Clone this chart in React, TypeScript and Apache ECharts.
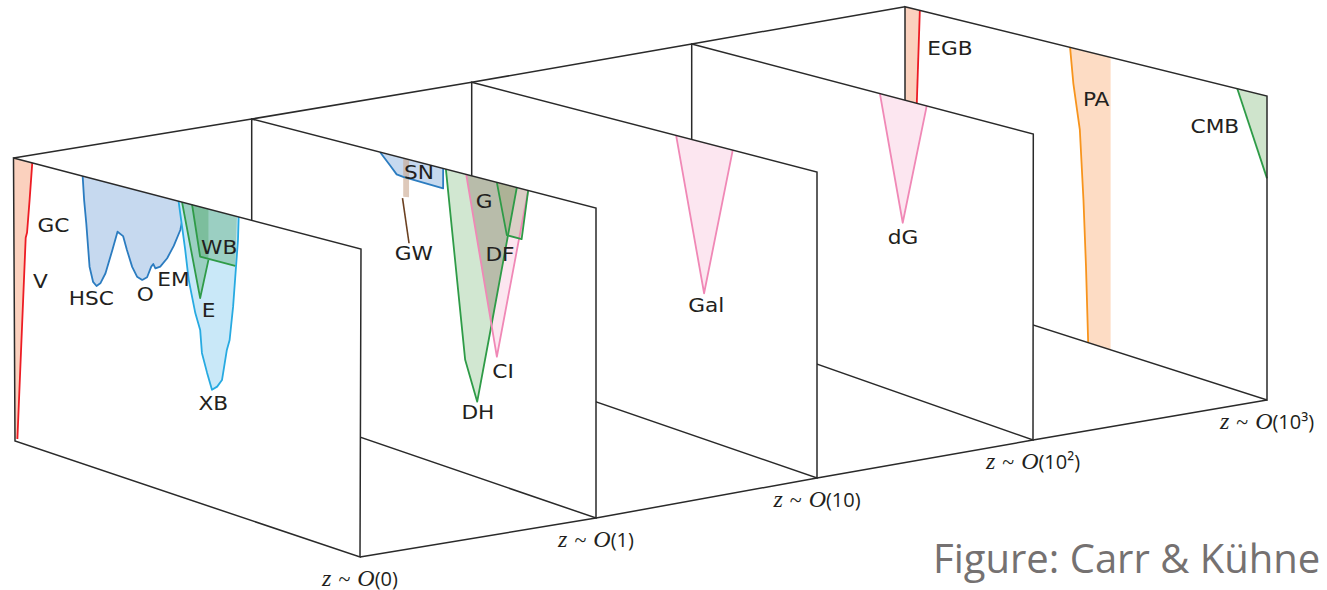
import { useEffect, useRef } from "react";
import * as echarts from "echarts";

type Pt = [number, number];

const SCENE_W = 1327;
const SCENE_H = 590;

// Corners of the five redshift panels in scene pixels (front panel first).
const PANEL_FRAMES: { tl: Pt; tr: Pt; bl: Pt; br: Pt }[] = [
  { tl: [13.5, 158], tr: [361, 249], bl: [15, 441], br: [360, 557] },
  { tl: [251.7, 119], tr: [596, 208], bl: [251.7, 400], br: [596, 518] },
  { tl: [471.7, 82.3], tr: [817, 172], bl: [471.7, 359], br: [817, 478] },
  { tl: [691.7, 44], tr: [1033.3, 134], bl: [691.7, 320], br: [1033, 440] },
  { tl: [905, 6.7], tr: [1267, 96], bl: [905, 284], br: [1267, 400] },
];

const REDSHIFTS = ["0", "1", "10", "10²", "10³"];

// Profiles drawn on each panel as [across, depth] fractions of the panel face.
// z ~ O(0)
const GC_V_EDGE: Pt[] = [[0.054, 0], [0.046, 0.13], [0.038, 0.25], [0.034, 0.27], [0.007, 0.99]];
const HSC_O_EM: Pt[] = [
  [0.199, 0], [0.203, 0.082], [0.209, 0.161], [0.218, 0.308], [0.228, 0.357], [0.238, 0.368],
  [0.249, 0.355], [0.264, 0.315], [0.284, 0.228], [0.299, 0.16], [0.315, 0.17], [0.326, 0.214],
  [0.341, 0.267], [0.355, 0.296], [0.37, 0.302], [0.384, 0.288], [0.396, 0.248], [0.402, 0.237],
  [0.408, 0.25], [0.422, 0.239], [0.442, 0.204], [0.461, 0.156], [0.48, 0.096], [0.492, 0.024],
  [0.498, 0],
];
const XB: Pt[] = [
  [0.475, 0], [0.485, 0.083], [0.494, 0.159], [0.504, 0.257], [0.523, 0.363], [0.537, 0.415],
  [0.542, 0.491], [0.557, 0.553], [0.571, 0.605], [0.586, 0.589], [0.6, 0.562], [0.614, 0.456],
  [0.622, 0.42], [0.632, 0.305], [0.639, 0.191], [0.646, 0.078], [0.648, 0],
];
const E: Pt[] = [[0.485, 0], [0.537, 0.308], [0.561, 0.171], [0.561, 0]];
const WB: Pt[] = [[0.514, 0], [0.537, 0.168], [0.638, 0.167], [0.643, 0]];

// z ~ O(1)
const SN: Pt[] = [[0.373, 0], [0.401, 0.035], [0.421, 0.061], [0.44, 0.064], [0.556, 0.067], [0.556, 0]];
const GW_BAND: Pt[] = [[0.44, 0], [0.457, 0], [0.457, 0.128], [0.44, 0.131]];
const GW_TAIL: Pt[] = [[0.438, 0.137], [0.457, 0.284]];
const DH: Pt[] = [[0.564, 0], [0.62, 0.621], [0.655, 0.748], [0.692, 0.507], [0.77, 0]];
const CI: Pt[] = [[0.623, 0], [0.712, 0.578], [0.803, 0]];
const DF: Pt[] = [[0.623, 0], [0.696, 0.477], [0.77, 0]];
const G: Pt[] = [[0.712, 0], [0.741, 0.166], [0.784, 0.166], [0.803, 0]];

// z ~ O(10)
const GAL: Pt[] = [[0.592, 0], [0.673, 0.508], [0.756, 0]];

// z ~ O(10²)
const DG: Pt[] = [[0.551, 0], [0.618, 0.418], [0.688, 0]];

// z ~ O(10³)
const EGB_EDGE: Pt[] = [[0.041, 0], [0.032, 0.36]];
const PA_EDGE: Pt[] = [[0.456, 0], [0.465, 0.121], [0.483, 0.276], [0.493, 0.514], [0.5, 0.741], [0.506, 1]];
const PA_FAR = 0.568;
const CMB: Pt[] = [[0.918, 0], [1, 0.271], [1, 0]];

// Population names and where they sit on their panel.
const LABELS: { panel: number; text: string; at: Pt }[] = [
  { panel: 0, text: "GC", at: [0.114, 0.198] },
  { panel: 0, text: "V", at: [0.076, 0.41] },
  { panel: 0, text: "HSC", at: [0.223, 0.418] },
  { panel: 0, text: "O", at: [0.379, 0.347] },
  { panel: 0, text: "EM", at: [0.46, 0.269] },
  { panel: 0, text: "E", at: [0.561, 0.34] },
  { panel: 0, text: "WB", at: [0.592, 0.121] },
  { panel: 0, text: "XB", at: [0.575, 0.648] },
  { panel: 1, text: "SN", at: [0.486, 0.036] },
  { panel: 1, text: "GW", at: [0.471, 0.313] },
  { panel: 1, text: "G", at: [0.675, 0.076] },
  { panel: 1, text: "DF", at: [0.721, 0.235] },
  { panel: 1, text: "CI", at: [0.73, 0.619] },
  { panel: 1, text: "DH", at: [0.657, 0.782] },
  { panel: 2, text: "Gal", at: [0.679, 0.546] },
  { panel: 3, text: "dG", at: [0.619, 0.466] },
  { panel: 4, text: "EGB", at: [0.124, 0.108] },
  { panel: 4, text: "PA", at: [0.528, 0.155] },
  { panel: 4, text: "CMB", at: [0.856, 0.143] },
];

const INK = "#231f20";
const EDGE = "#2a2a2a";
const RED = "#ed1c24";
const SALMON = "#fbd1be";
const BLUE = "#2b7cc0";
const BLUE_FILL = "#c6d9ef";
const CYAN = "#27aae1";
const CYAN_FILL = "#c9e8f8";
const GREEN = "#2e9b47";
const GREEN_FILL = "rgba(60,155,80,0.32)";
const DH_FILL = "rgba(90,170,90,0.28)";
const PINK = "#f088b6";
const PINK_FILL = "rgba(240,130,180,0.2)";
const DF_FILL = "rgba(100,130,80,0.27)";
const G_FILL = "rgba(150,160,110,0.32)";
const TAN_FILL = "rgba(200,165,140,0.6)";
const BROWN = "#6b4020";
const ORANGE = "#f7941d";
const PEACH = "#fddcc4";
const CMB_FILL = "#cfe4cc";

type Item =
  | { kind: "face" | "frame" | "redshift"; panel: number }
  | { kind: "area"; panel: number; pts: Pt[]; fill: string }
  | { kind: "line"; panel: number; pts: Pt[]; stroke: string; width: number }
  | { kind: "label"; panel: number; text: string; at: Pt }
  | { kind: "rail"; corner: "tl" | "br" };

const ITEMS: Item[] = [];
const area = (panel: number, pts: Pt[], fill: string) => ITEMS.push({ kind: "area", panel, pts, fill });
const line = (panel: number, pts: Pt[], stroke: string, width = 1.8) =>
  ITEMS.push({ kind: "line", panel, pts, stroke, width });

const SHAPES: Record<number, () => void> = {
  0: () => {
    area(0, [[0, 0], ...GC_V_EDGE, [0, 0.99]], SALMON);
    line(0, GC_V_EDGE, RED);
    area(0, HSC_O_EM, BLUE_FILL);
    line(0, HSC_O_EM, BLUE);
    area(0, XB, CYAN_FILL);
    line(0, XB, CYAN);
    area(0, E, GREEN_FILL);
    area(0, WB, GREEN_FILL);
    line(0, E.slice(0, 3), GREEN);
    line(0, WB.slice(0, 3), GREEN);
  },
  1: () => {
    area(1, SN, BLUE_FILL);
    area(1, GW_BAND, TAN_FILL);
    line(1, SN, BLUE);
    line(1, GW_TAIL, BROWN, 1.6);
    area(1, DH, DH_FILL);
    area(1, CI, PINK_FILL);
    area(1, DF, DF_FILL);
    area(1, G, G_FILL);
    line(1, DH, GREEN);
    line(1, CI, PINK);
    line(1, G, GREEN);
  },
  2: () => {
    area(2, GAL, PINK_FILL);
    line(2, GAL, PINK);
  },
  3: () => {
    area(3, DG, PINK_FILL);
    line(3, DG, PINK);
  },
  4: () => {
    area(4, [[0, 0], ...EGB_EDGE, [0, EGB_EDGE[1][1]]], SALMON);
    line(4, EGB_EDGE, RED);
    area(4, [...PA_EDGE, [PA_FAR, 1], [PA_FAR, 0]], PEACH);
    line(4, PA_EDGE, ORANGE);
    area(4, CMB, CMB_FILL);
    line(4, CMB.slice(0, 2), GREEN);
  },
};

ITEMS.push({ kind: "rail", corner: "tl" });
for (let k = PANEL_FRAMES.length - 1; k >= 0; k--) {
  ITEMS.push({ kind: "face", panel: k });
  SHAPES[k]();
  ITEMS.push({ kind: "frame", panel: k });
  LABELS.filter((l) => l.panel === k).forEach((l) => ITEMS.push({ kind: "label", ...l }));
  ITEMS.push({ kind: "redshift", panel: k });
}
ITEMS.push({ kind: "rail", corner: "br" });

const lerp = (a: Pt, b: Pt, t: number): Pt => [a[0] + (b[0] - a[0]) * t, a[1] + (b[1] - a[1]) * t];

// Bilinear placement of a [across, depth] point on a panel face.
function project(panel: number, [u, v]: Pt): Pt {
  const f = PANEL_FRAMES[panel];
  return lerp(lerp(f.tl, f.tr, u), lerp(f.bl, f.br, u), v);
}

export default function App() {
  const ref = useRef<HTMLDivElement>(null);

  useEffect(() => {
    if (!ref.current) return;
    const chart = echarts.init(ref.current, undefined, { renderer: "svg" });

    const renderItem = (params: any, api: any) => {
      const it = ITEMS[params.dataIndex];
      const z2 = params.dataIndex;
      const px = (p: Pt) => api.coord(p);
      if (it.kind === "rail") {
        return {
          type: "polyline",
          z2,
          shape: { points: PANEL_FRAMES.map((f) => px(f[it.corner])) },
          style: { stroke: EDGE, lineWidth: 1.5, fill: "none" },
        };
      }
      const onPanel = (p: Pt) => px(project(it.panel, p));
      const f = PANEL_FRAMES[it.panel];
      switch (it.kind) {
        case "face":
        case "frame":
          return {
            type: "polygon",
            z2,
            shape: { points: [f.tl, f.tr, f.br, f.bl].map(px) },
            style:
              it.kind === "face"
                ? { fill: "#ffffff", stroke: "none" }
                : { fill: "none", stroke: EDGE, lineWidth: 1.5, lineJoin: "miter" },
          };
        case "area":
          return { type: "polygon", z2, shape: { points: it.pts.map(onPanel) }, style: { fill: it.fill, stroke: "none" } };
        case "line":
          return {
            type: "polyline",
            z2,
            shape: { points: it.pts.map(onPanel) },
            style: { fill: "none", stroke: it.stroke, lineWidth: it.width, lineJoin: "round" },
          };
        case "label": {
          const [x, y] = onPanel(it.at);
          return {
            type: "text",
            z2,
            x,
            y,
            scaleX: 1.14,
            style: {
              text: it.text,
              fill: INK,
              fontSize: 19,
              fontFamily: "DejaVu Sans",
              align: "center",
              verticalAlign: "middle",
            },
          };
        }
        case "redshift": {
          const [x, y] = px(f.br);
          return {
            type: "text",
            z2,
            x,
            y: y + 21,
            style: {
              text: `{v|z}{s|}{t|~}{s|}{v|O}{n|(${REDSHIFTS[it.panel]})}`,
              fill: INK,
              align: "center",
              verticalAlign: "middle",
              rich: {
                v: { fontFamily: "Liberation Serif", fontStyle: "italic", fontSize: 24, fill: INK },
                s: { width: 7, fontSize: 20 },
                t: { fontFamily: "Liberation Serif", fontSize: 22, fill: INK },
                n: { fontFamily: "Open Sans", fontSize: 20, fill: INK },
              },
            },
          };
        }
      }
      return null;
    };

    chart.setOption({
      animation: false,
      grid: { left: 0, right: 0, top: 0, bottom: 0 },
      xAxis: { type: "value", min: 0, max: SCENE_W, show: false },
      yAxis: { type: "value", min: 0, max: SCENE_H, inverse: true, show: false },
      series: [
        {
          type: "custom",
          coordinateSystem: "cartesian2d",
          silent: true,
          clip: false,
          encode: { x: 0, y: 1 },
          data: ITEMS.map((_, i) => [i, 0]),
          renderItem,
        },
      ],
      graphic: [
        {
          type: "text",
          left: 933,
          top: 537,
          silent: true,
          style: { text: "Figure: Carr & Kühne", fill: "#757171", fontSize: 40, fontFamily: "Open Sans" },
        },
      ],
    });

    return () => chart.dispose();
  }, []);

  return (
    <div
      ref={ref}
      style={{ position: "fixed", left: 0, top: 0, width: SCENE_W, height: SCENE_H, background: "#ffffff" }}
    />
  );
}
